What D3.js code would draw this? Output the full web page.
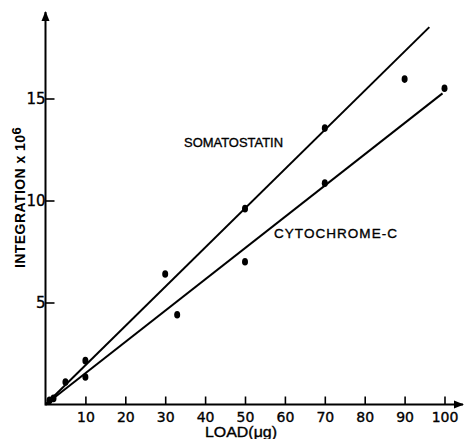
<!DOCTYPE html>
<html>
<head>
<meta charset="utf-8">
<script src="https://cdn.jsdelivr.net/npm/d3@7"></script>
<style>
  html, body { margin: 0; padding: 0; background: #fff; }
  svg { display: block; }
  text { fill: #000; }
</style>
</head>
<body>
<svg id="chart" width="465" height="439"></svg>
<script>
// Measured integration (x 10^6) against sample load (µg)
const somatostatinPoints = [[1, 0.2], [5, 1.1], [10, 2.15], [30, 6.4], [50, 9.6], [70, 13.55], [90, 15.95]];
const cytochromePoints   = [[2, 0.3], [10, 1.35], [33, 4.4], [50, 7.0], [70, 10.85], [100, 15.5]];

// Fitted calibration lines (start and end)
const somatostatinFit = [[0, 0], [96.2, 18.5]];
const cytochromeFit   = [[0, 0], [99.5, 15.25]];

const xTicks = [10, 20, 30, 40, 50, 60, 70, 80, 90, 100];
const yTicks = [5, 10, 15];

const svg = d3.select("#chart");
const font = "'Liberation Sans', Arial, sans-serif";
const digitFont = "'DejaVu Sans', sans-serif";

const x = d3.scaleLinear().domain([0, 100]).range([45.5, 444.5]);
const y = d3.scaleLinear().domain([0, 15]).range([404.5, 98.5]);

// Arrowhead for axis ends
const defs = svg.append("defs");
defs.append("marker")
  .attr("id", "arrow")
  .attr("viewBox", "0 0 10 10")
  .attr("refX", 9).attr("refY", 5)
  .attr("markerWidth", 5).attr("markerHeight", 5)
  .attr("markerUnits", "strokeWidth")
  .attr("orient", "auto")
  .append("path")
  .attr("d", "M0,1 L10,5 L0,9 Z")
  .attr("fill", "#000");

// Axis lines with arrows
svg.append("line")
  .attr("x1", x(0)).attr("y1", y(0))
  .attr("x2", 463).attr("y2", y(0))
  .attr("stroke", "#000").attr("stroke-width", 2)
  .attr("marker-end", "url(#arrow)");
svg.append("line")
  .attr("x1", x(0)).attr("y1", y(0) + 1)
  .attr("x2", x(0)).attr("y2", 12)
  .attr("stroke", "#000").attr("stroke-width", 2)
  .attr("marker-end", "url(#arrow)");

// X axis ticks pointing up, labels below
const xAxis = d3.axisBottom(x)
  .tickValues(xTicks)
  .tickSizeInner(-8).tickSizeOuter(0)
  .tickPadding(8);
const gx = svg.append("g")
  .attr("transform", `translate(0,${y(0)})`)
  .call(xAxis);
gx.select(".domain").remove();
gx.selectAll(".tick line").attr("stroke", "#000").attr("stroke-width", 1.6);
gx.selectAll(".tick text")
  .attr("font-family", digitFont)
  .attr("font-size", 14)
  .attr("fill", "#000")
  .attr("stroke", "#000").attr("stroke-width", 0.35);

// Y axis ticks pointing right, labels left
const yAxis = d3.axisLeft(y)
  .tickValues(yTicks)
  .tickSizeInner(-9).tickSizeOuter(0)
  .tickPadding(0);
const gy = svg.append("g")
  .attr("transform", `translate(${x(0)},0)`)
  .call(yAxis);
gy.select(".domain").remove();
gy.selectAll(".tick line").attr("stroke", "#000").attr("stroke-width", 1.6);
gy.selectAll(".tick text")
  .attr("font-family", digitFont)
  .attr("font-size", 15)
  .attr("fill", "#000")
  .attr("stroke", "#000").attr("stroke-width", 0.35);

// Calibration lines
const line = d3.line().x(d => x(d[0])).y(d => y(d[1]));
[somatostatinFit, cytochromeFit].forEach(fit => {
  svg.append("path")
    .datum(fit)
    .attr("d", line)
    .attr("fill", "none")
    .attr("stroke", "#000")
    .attr("stroke-width", 2);
});

// Data points
[somatostatinPoints, cytochromePoints].forEach(pts => {
  svg.append("g").selectAll("ellipse")
    .data(pts)
    .join("ellipse")
    .attr("cx", d => x(d[0]))
    .attr("cy", d => y(d[1]))
    .attr("rx", 3)
    .attr("ry", 3.8)
    .attr("fill", "#000");
});

// Series labels
svg.append("text")
  .attr("x", 184).attr("y", 147)
  .attr("font-family", font).attr("font-size", 13.5)
  .attr("stroke", "#000").attr("stroke-width", 0.35)
  .attr("textLength", 99).attr("lengthAdjust", "spacingAndGlyphs")
  .text("SOMATOSTATIN");
svg.append("text")
  .attr("x", 274).attr("y", 238)
  .attr("font-family", font).attr("font-size", 13.5)
  .attr("stroke", "#000").attr("stroke-width", 0.35)
  .attr("textLength", 123).attr("lengthAdjust", "spacing")
  .text("CYTOCHROME-C");

// Axis titles
svg.append("text")
  .attr("x", 205).attr("y", 437)
  .attr("font-family", font).attr("font-size", 14)
  .attr("stroke", "#000").attr("stroke-width", 0.35)
  .attr("textLength", 72).attr("lengthAdjust", "spacingAndGlyphs")
  .text("LOAD(μg)");

const yt = svg.append("text")
  .attr("transform", "translate(25,268) rotate(-90)")
  .attr("font-family", font).attr("font-size", 14).attr("font-weight", "bold");
yt.append("tspan")
  .attr("textLength", 133).attr("lengthAdjust", "spacing")
  .text("INTEGRATION x 10");
yt.append("tspan").attr("dy", -4).attr("font-size", 13).text("6");
</script>
</body>
</html>
